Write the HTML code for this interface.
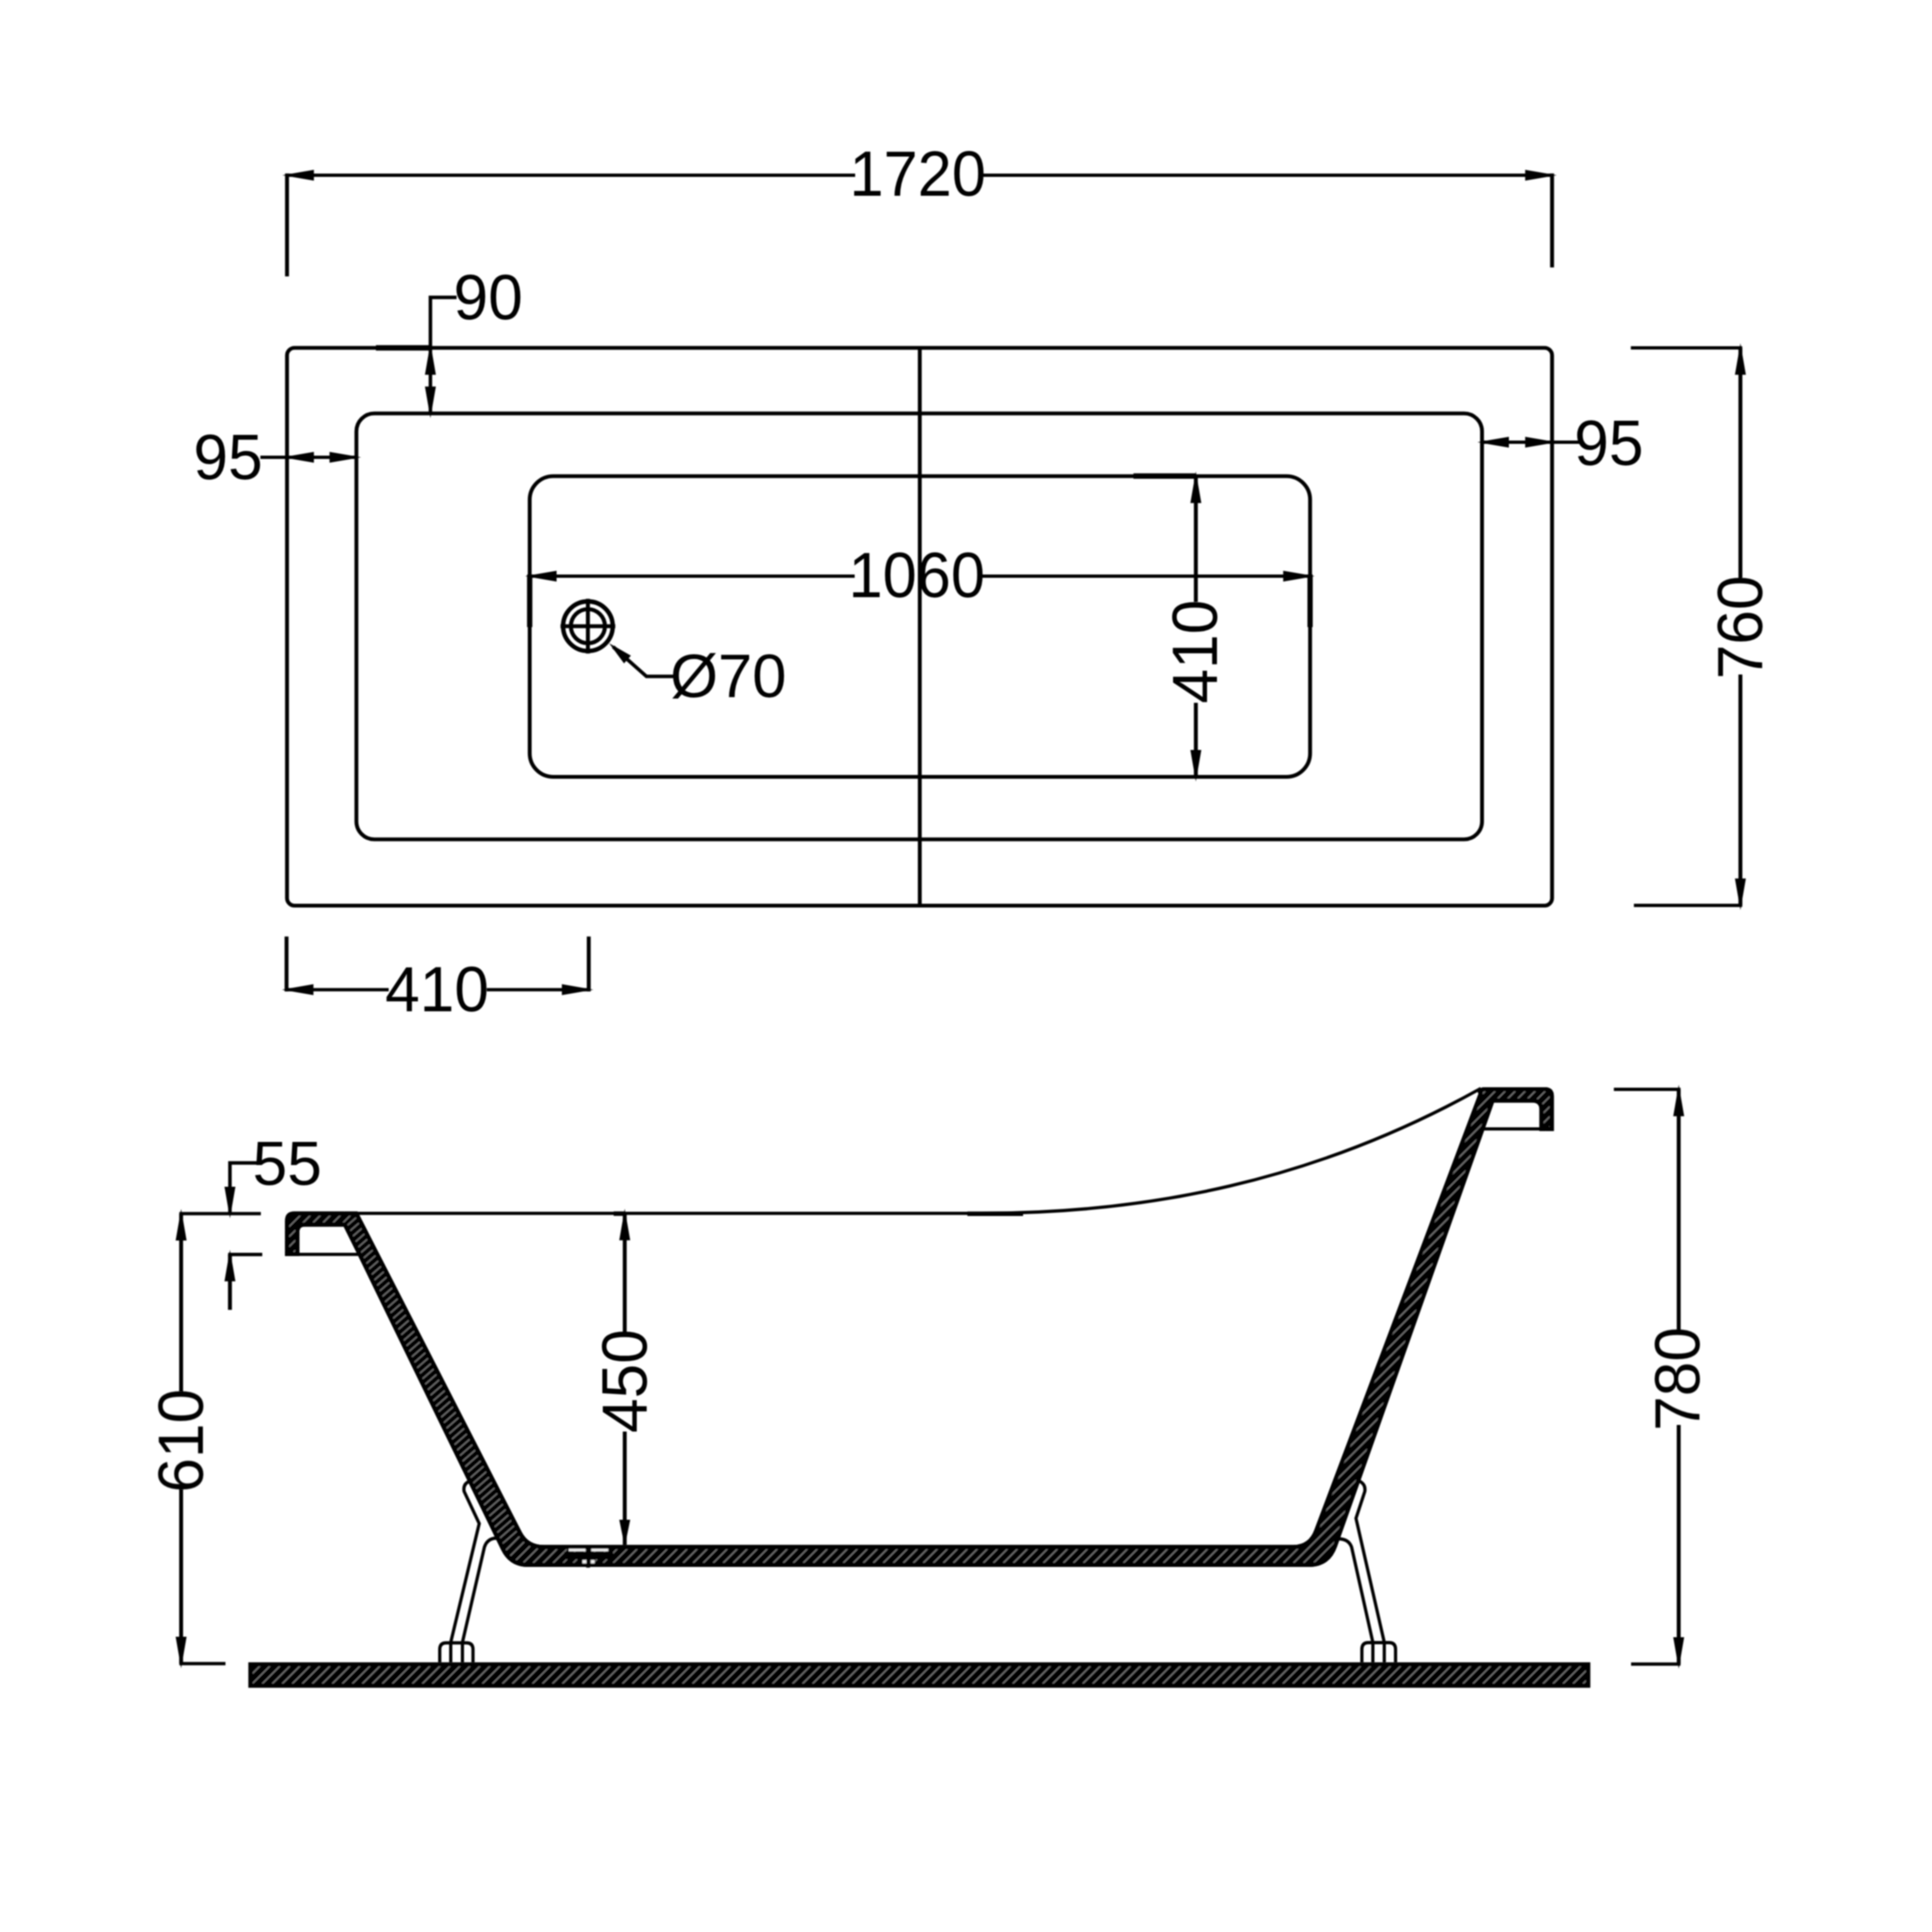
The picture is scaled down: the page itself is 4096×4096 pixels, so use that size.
<!DOCTYPE html>
<html lang="en">
<head>
<meta charset="utf-8">
<title>Bathtub 1720 x 760 technical drawing</title>
<style>
html,body{margin:0;padding:0;background:#fff;}
body{width:4096px;height:4096px;overflow:hidden;}
svg{display:block;}
text{font-family:"Liberation Sans",Arial,Helvetica,sans-serif;font-size:132px;fill:#060606;stroke:none;}
</style>
</head>
<body>
<svg width="4096" height="4096" viewBox="0 0 4096 4096">
<defs>
<pattern id="h1" width="15" height="15" patternUnits="userSpaceOnUse" patternTransform="rotate(-45)">
<rect x="0" y="0" width="15" height="15" fill="#060606"/>
<rect x="0" y="6" width="15" height="2.6" fill="#7a7a7a"/>
</pattern>
<pattern id="h2" width="12.5" height="12.5" patternUnits="userSpaceOnUse" patternTransform="rotate(-41)">
<rect x="0" y="0" width="12.5" height="12.5" fill="#060606"/>
<rect x="0" y="5" width="12.5" height="2.5" fill="#7a7a7a"/>
</pattern>
<filter id="soft" x="-2%" y="-2%" width="104%" height="104%"><feGaussianBlur stdDeviation="1.7"/></filter>
</defs>
<rect x="0" y="0" width="4096" height="4096" fill="#ffffff"/>
<g stroke="#060606" fill="none" stroke-linecap="butt" stroke-linejoin="miter" filter="url(#soft)">
<rect x="608.5" y="737.5" width="2682.0" height="1182.5" rx="16" ry="16" stroke-width="8.2" fill="none"/>
<rect x="755.6" y="876.5" width="2386.4" height="903.0" rx="38" ry="38" stroke-width="8.2" fill="none"/>
<rect x="1123.0" y="1009.5" width="1654.5" height="637.5" rx="50" ry="50" stroke-width="8.2" fill="none"/>
<line x1="1950.0" y1="737.5" x2="1950.0" y2="1920.0" stroke-width="8.2" stroke-linecap="butt"/>
<circle cx="1246.4" cy="1327.6" r="52.6" stroke-width="9.4" fill="none"/>
<circle cx="1246.4" cy="1327.6" r="36.1" stroke-width="8.6" fill="none"/>
<line x1="1188.4" y1="1327.6" x2="1304.4" y2="1327.6" stroke-width="8.4" stroke-linecap="butt"/>
<line x1="1246.4" y1="1269.6" x2="1246.4" y2="1385.6" stroke-width="8.4" stroke-linecap="butt"/>
<path d="M1300,1371.4 L1370.5,1434 L1430,1434" stroke-width="7.5" fill="none" />
<polygon points="1291.4,1363.8 1337.6,1390.1 1323.0,1406.5" fill="#060606" stroke="none"/>
<text transform="translate(1544.0,1478.0) scale(0.988,0.985)" text-anchor="middle">Ø70</text>
<line x1="608.5" y1="371.5" x2="1813.0" y2="371.5" stroke-width="7.1" stroke-linecap="butt"/>
<line x1="2085.0" y1="371.5" x2="3290.5" y2="371.5" stroke-width="7.1" stroke-linecap="butt"/>
<line x1="608.5" y1="367.7" x2="608.5" y2="586.0" stroke-width="8.3" stroke-linecap="butt"/>
<line x1="3290.5" y1="367.7" x2="3290.5" y2="567.0" stroke-width="8.3" stroke-linecap="butt"/>
<polygon points="598.5,371.5 665.5,359.9 665.5,383.1" fill="#060606" stroke="none"/>
<polygon points="3300.5,371.5 3233.5,383.1 3233.5,359.9" fill="#060606" stroke="none"/>
<text transform="translate(1945.6,415.3) scale(0.985,1.03)" text-anchor="middle">1720</text>
<path d="M968,630.5 L912.5,630.5 L912.5,876.5" stroke-width="7.5" fill="none" />
<polygon points="912.5,727.5 924.1,794.5 900.9,794.5" fill="#060606" stroke="none"/>
<polygon points="912.5,886.5 900.9,819.5 924.1,819.5" fill="#060606" stroke="none"/>
<line x1="797.0" y1="737.5" x2="912.5" y2="737.5" stroke-width="11.5" stroke-linecap="butt"/>
<text transform="translate(1035.0,677.0) scale(1,1.03)" text-anchor="middle">90</text>
<line x1="552.0" y1="969.5" x2="755.6" y2="969.5" stroke-width="7.1" stroke-linecap="butt"/>
<polygon points="598.5,969.5 665.5,957.9 665.5,981.1" fill="#060606" stroke="none"/>
<polygon points="765.6,969.5 698.6,981.1 698.6,957.9" fill="#060606" stroke="none"/>
<text transform="translate(483.5,1016.0) scale(1,1.03)" text-anchor="middle">95</text>
<line x1="3142.0" y1="937.5" x2="3349.0" y2="937.5" stroke-width="7.1" stroke-linecap="butt"/>
<polygon points="3132.0,937.5 3199.0,925.9 3199.0,949.1" fill="#060606" stroke="none"/>
<polygon points="3300.5,937.5 3233.5,949.1 3233.5,925.9" fill="#060606" stroke="none"/>
<text transform="translate(3411.0,986.0) scale(1,1.03)" text-anchor="middle">95</text>
<line x1="1123.0" y1="1221.5" x2="1812.0" y2="1221.5" stroke-width="7.1" stroke-linecap="butt"/>
<line x1="2083.0" y1="1221.5" x2="2777.5" y2="1221.5" stroke-width="7.1" stroke-linecap="butt"/>
<polygon points="1113.0,1221.5 1180.0,1209.9 1180.0,1233.1" fill="#060606" stroke="none"/>
<polygon points="2787.5,1221.5 2720.5,1233.1 2720.5,1209.9" fill="#060606" stroke="none"/>
<line x1="1123.0" y1="1218.0" x2="1123.0" y2="1329.5" stroke-width="11.2" stroke-linecap="butt"/>
<line x1="2777.5" y1="1218.0" x2="2777.5" y2="1329.5" stroke-width="11.2" stroke-linecap="butt"/>
<text transform="translate(1943.6,1265.5) scale(0.985,1.03)" text-anchor="middle">1060</text>
<line x1="2535.3" y1="1009.5" x2="2535.3" y2="1276.0" stroke-width="8.3" stroke-linecap="butt"/>
<line x1="2535.3" y1="1490.0" x2="2535.3" y2="1647.0" stroke-width="8.3" stroke-linecap="butt"/>
<polygon points="2535.3,999.5 2546.9,1066.5 2523.7,1066.5" fill="#060606" stroke="none"/>
<polygon points="2535.3,1657.0 2523.7,1590.0 2546.9,1590.0" fill="#060606" stroke="none"/>
<line x1="2403.0" y1="1009.2" x2="2535.3" y2="1009.2" stroke-width="11.5" stroke-linecap="butt"/>
<text transform="translate(2580.0,1381.5) rotate(-90) scale(1,1.03)" text-anchor="middle">410</text>
<line x1="3689.8" y1="737.5" x2="3689.8" y2="1225.0" stroke-width="8.3" stroke-linecap="butt"/>
<line x1="3689.8" y1="1430.0" x2="3689.8" y2="1919.5" stroke-width="8.3" stroke-linecap="butt"/>
<line x1="3457.5" y1="737.5" x2="3693.6" y2="737.5" stroke-width="7.1" stroke-linecap="butt"/>
<line x1="3464.0" y1="1919.5" x2="3693.6" y2="1919.5" stroke-width="7.1" stroke-linecap="butt"/>
<polygon points="3689.8,727.5 3701.4,794.5 3678.2,794.5" fill="#060606" stroke="none"/>
<polygon points="3689.8,1929.5 3678.2,1862.5 3701.4,1862.5" fill="#060606" stroke="none"/>
<text transform="translate(3735.5,1330.0) rotate(-90) scale(1,1.03)" text-anchor="middle">760</text>
<line x1="607.5" y1="2098.2" x2="824.0" y2="2098.2" stroke-width="7.1" stroke-linecap="butt"/>
<line x1="1032.0" y1="2098.2" x2="1248.2" y2="2098.2" stroke-width="7.1" stroke-linecap="butt"/>
<line x1="607.5" y1="1985.5" x2="607.5" y2="2102.0" stroke-width="8.3" stroke-linecap="butt"/>
<line x1="1248.2" y1="1985.5" x2="1248.2" y2="2102.0" stroke-width="8.3" stroke-linecap="butt"/>
<polygon points="597.5,2098.2 664.5,2086.6 664.5,2109.8" fill="#060606" stroke="none"/>
<polygon points="1258.2,2098.2 1191.2,2109.8 1191.2,2086.6" fill="#060606" stroke="none"/>
<text transform="translate(926.5,2143.7) scale(1,1.03)" text-anchor="middle">410</text>
<path d="M604.3,2663 L604.3,2588 Q604.3,2568.5 623.5,2568.5 L758,2568.5 L1106.1,3247.9 Q1120.3,3275.5 1153.3,3275.5 L2742,3275.5 Q2774.8,3275.5 2786.5,3243.6 L3134.5,2319 L3132.8,2314 Q3136,2305 3148,2305 L3275,2305 Q3294.3,2305 3294.3,2324 L3294.3,2397.8 L3263.7,2397.8 L3263.7,2352 Q3263.7,2337.5 3249,2337.5 L3167.4,2337.5 L2834.4,3279.6 Q2819.4,3322 2774.4,3322 L1120.1,3322 Q1080.1,3322 1062.6,3286.0 L759.6,2663 L728.6,2600.5 L646,2600.5 Q634.8,2600.5 634.8,2611.5 L634.8,2663 Z" fill="#060606" stroke="none"/>
<clipPath id="cb"><path d="M604.3,2663 L604.3,2588 Q604.3,2568.5 623.5,2568.5 L758,2568.5 L1106.1,3247.9 Q1120.3,3275.5 1153.3,3275.5 L2742,3275.5 Q2774.8,3275.5 2786.5,3243.6 L3134.5,2319 L3132.8,2314 Q3136,2305 3148,2305 L3275,2305 Q3294.3,2305 3294.3,2324 L3294.3,2397.8 L3263.7,2397.8 L3263.7,2352 Q3263.7,2337.5 3249,2337.5 L3167.4,2337.5 L2834.4,3279.6 Q2819.4,3322 2774.4,3322 L1120.1,3322 Q1080.1,3322 1062.6,3286.0 L759.6,2663 L728.6,2600.5 L646,2600.5 Q634.8,2600.5 634.8,2611.5 L634.8,2663 Z"/></clipPath>
<clipPath id="cw"><polygon points="728.6,2600.5 758,2568.5 1114,3252 1052,3278"/></clipPath>
<clipPath id="cr"><path clip-rule="evenodd" d="M0,0 H4096 V4096 H0 Z M728.6,2600.5 L758,2568.5 L1114,3252 L1052,3278 Z"/></clipPath>
<g clip-path="url(#cb)"><g clip-path="url(#cr)"><path d="M604.3,2663 L604.3,2588 Q604.3,2568.5 623.5,2568.5 L758,2568.5 L1106.1,3247.9 Q1120.3,3275.5 1153.3,3275.5 L2742,3275.5 Q2774.8,3275.5 2786.5,3243.6 L3134.5,2319 L3132.8,2314 Q3136,2305 3148,2305 L3275,2305 Q3294.3,2305 3294.3,2324 L3294.3,2397.8 L3263.7,2397.8 L3263.7,2352 Q3263.7,2337.5 3249,2337.5 L3167.4,2337.5 L2834.4,3279.6 Q2819.4,3322 2774.4,3322 L1120.1,3322 Q1080.1,3322 1062.6,3286.0 L759.6,2663 L728.6,2600.5 L646,2600.5 Q634.8,2600.5 634.8,2611.5 L634.8,2663 Z" fill="url(#h1)" stroke="none"/></g><g clip-path="url(#cw)"><path d="M604.3,2663 L604.3,2588 Q604.3,2568.5 623.5,2568.5 L758,2568.5 L1106.1,3247.9 Q1120.3,3275.5 1153.3,3275.5 L2742,3275.5 Q2774.8,3275.5 2786.5,3243.6 L3134.5,2319 L3132.8,2314 Q3136,2305 3148,2305 L3275,2305 Q3294.3,2305 3294.3,2324 L3294.3,2397.8 L3263.7,2397.8 L3263.7,2352 Q3263.7,2337.5 3249,2337.5 L3167.4,2337.5 L2834.4,3279.6 Q2819.4,3322 2774.4,3322 L1120.1,3322 Q1080.1,3322 1062.6,3286.0 L759.6,2663 L728.6,2600.5 L646,2600.5 Q634.8,2600.5 634.8,2611.5 L634.8,2663 Z" fill="url(#h2)" stroke="none"/></g><path d="M604.3,2663 L604.3,2588 Q604.3,2568.5 623.5,2568.5 L758,2568.5 L1106.1,3247.9 Q1120.3,3275.5 1153.3,3275.5 L2742,3275.5 Q2774.8,3275.5 2786.5,3243.6 L3134.5,2319 L3132.8,2314 Q3136,2305 3148,2305 L3275,2305 Q3294.3,2305 3294.3,2324 L3294.3,2397.8 L3263.7,2397.8 L3263.7,2352 Q3263.7,2337.5 3249,2337.5 L3167.4,2337.5 L2834.4,3279.6 Q2819.4,3322 2774.4,3322 L1120.1,3322 Q1080.1,3322 1062.6,3286.0 L759.6,2663 L728.6,2600.5 L646,2600.5 Q634.8,2600.5 634.8,2611.5 L634.8,2663 Z" fill="none" stroke="#060606" stroke-width="18"/></g>
<rect x="526.5" y="3524.2" width="2845.1" height="54.0" fill="#060606" stroke="none"/>
<rect x="536" y="3532.8" width="2826.1" height="36.2" fill="url(#h1)" stroke="none"/>
<line x1="634.0" y1="2659.3" x2="761.0" y2="2659.3" stroke-width="6.8" stroke-linecap="butt"/>
<line x1="3146.0" y1="2393.3" x2="3264.0" y2="2393.3" stroke-width="6.8" stroke-linecap="butt"/>
<path d="M758,2572.4 L2080,2572.4 C2431.6,2572.4 2783.1,2505.2 3134.7,2310.1 L3139.5,2307.4" stroke-width="6.8" fill="none" />
<line x1="2051.0" y1="2573.3" x2="2169.0" y2="2573.3" stroke-width="9.5" stroke-linecap="butt"/>
<path d="M996,3140 Q981,3146 984,3162 L1016,3230 L955.6,3482 L955.6,3524" stroke-width="6.8" fill="none" />
<path d="M1053,3261 Q1033,3261 1027,3280 L980.4,3482 L980.4,3524" stroke-width="6.8" fill="none" />
<path d="M932.3,3524 L932.3,3497 Q932.3,3483 946,3483 L989,3483 Q1002.8,3483 1002.8,3497 L1002.8,3524" stroke-width="6.8" fill="none" />
<path d="M2880,3139 Q2896,3146 2893.5,3162 L2874.8,3219 L2934.8,3482 L2934.8,3524" stroke-width="6.8" fill="none" />
<path d="M2838,3262.5 Q2859,3262.5 2865.5,3280 L2910.6,3482 L2910.6,3524" stroke-width="6.8" fill="none" />
<path d="M2887.3,3524 L2887.3,3497 Q2887.3,3482.5 2901,3482.5 L2945,3482.5 Q2958.7,3482.5 2958.7,3497 L2958.7,3524" stroke-width="6.8" fill="none" />
<rect x="1206" y="3283.5" width="35" height="5.2" fill="#f4f4f4" stroke="none"/>
<rect x="1253.5" y="3283.5" width="36" height="5.2" fill="#f4f4f4" stroke="none"/>
<rect x="1196" y="3290" width="104" height="16" fill="#060606" stroke="none"/>
<line x1="1246.8" y1="3277.0" x2="1246.8" y2="3323.5" stroke-width="8" stroke-linecap="butt"/>
<rect x="1235" y="3307.3" width="8" height="7.2" fill="#eee" stroke="none"/>
<rect x="1252.5" y="3307.3" width="8" height="7.2" fill="#eee" stroke="none"/>
<rect x="1194" y="3291" width="106" height="22" fill="#060606" stroke="none" opacity="0.0"/>
<path d="M545,2465.5 L487.5,2465.5 L487.5,2573" stroke-width="7.5" fill="none" />
<polygon points="487.5,2583.0 475.9,2516.0 499.1,2516.0" fill="#060606" stroke="none"/>
<polygon points="487.5,2649.6 499.1,2716.6 475.9,2716.6" fill="#060606" stroke="none"/>
<line x1="487.5" y1="2659.6" x2="487.5" y2="2777.0" stroke-width="8.3" stroke-linecap="butt"/>
<line x1="380.2" y1="2573.0" x2="553.0" y2="2573.0" stroke-width="7.1" stroke-linecap="butt"/>
<line x1="483.7" y1="2659.6" x2="556.0" y2="2659.6" stroke-width="7.1" stroke-linecap="butt"/>
<text transform="translate(609.0,2512.0) scale(1,1.0)" text-anchor="middle">55</text>
<line x1="384.0" y1="2573.0" x2="384.0" y2="2952.0" stroke-width="8.3" stroke-linecap="butt"/>
<line x1="384.0" y1="3152.0" x2="384.0" y2="3527.0" stroke-width="8.3" stroke-linecap="butt"/>
<line x1="380.2" y1="3527.0" x2="478.0" y2="3527.0" stroke-width="7.1" stroke-linecap="butt"/>
<polygon points="384.0,2563.0 395.6,2630.0 372.4,2630.0" fill="#060606" stroke="none"/>
<polygon points="384.0,3537.0 372.4,3470.0 395.6,3470.0" fill="#060606" stroke="none"/>
<text transform="translate(429.8,3054.5) rotate(-90) scale(1,1.03)" text-anchor="middle">610</text>
<line x1="1324.5" y1="2573.0" x2="1324.5" y2="2824.0" stroke-width="8.3" stroke-linecap="butt"/>
<line x1="1324.5" y1="3035.0" x2="1324.5" y2="3275.0" stroke-width="8.3" stroke-linecap="butt"/>
<polygon points="1324.5,2562.5 1336.1,2629.5 1312.9,2629.5" fill="#060606" stroke="none"/>
<polygon points="1324.5,3279.0 1312.9,3222.0 1336.1,3222.0" fill="#060606" stroke="none"/>
<line x1="1301.0" y1="2573.0" x2="1324.5" y2="2573.0" stroke-width="9.5" stroke-linecap="butt"/>
<text transform="translate(1371.4,2928.0) rotate(-90) scale(1,1.03)" text-anchor="middle">450</text>
<line x1="3559.0" y1="2309.5" x2="3559.0" y2="2821.0" stroke-width="8.3" stroke-linecap="butt"/>
<line x1="3559.0" y1="3021.0" x2="3559.0" y2="3528.0" stroke-width="8.3" stroke-linecap="butt"/>
<line x1="3421.5" y1="2309.5" x2="3562.8" y2="2309.5" stroke-width="7.1" stroke-linecap="butt"/>
<line x1="3458.0" y1="3528.0" x2="3562.8" y2="3528.0" stroke-width="7.1" stroke-linecap="butt"/>
<polygon points="3559.0,2299.5 3570.6,2366.5 3547.4,2366.5" fill="#060606" stroke="none"/>
<polygon points="3559.0,3538.0 3547.4,3471.0 3570.6,3471.0" fill="#060606" stroke="none"/>
<text transform="translate(3602.6,2923.5) rotate(-90) scale(1,1.03)" text-anchor="middle">780</text>
</g>
</svg>
</body>
</html>
